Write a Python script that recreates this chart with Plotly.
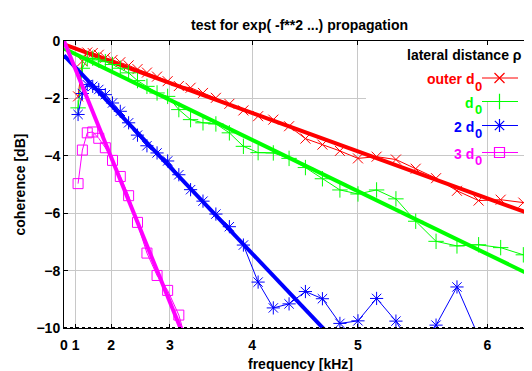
import plotly.graph_objects as go

# ---------------- data ----------------
freq_khz = [1.094, 1.250, 1.406, 1.563, 1.719, 1.875, 2.031, 2.188, 2.344, 2.500,
            2.656, 2.813, 2.969, 3.125, 3.281, 3.438, 3.594, 3.750, 3.906, 4.063,
            4.219, 4.375, 4.531, 4.688, 4.844, 5.000, 5.156, 5.313, 5.469, 5.625,
            5.781, 5.938, 6.094, 6.250]

outer_d0_db = [-1.93, -0.70, -0.40, -0.42, -0.48, -0.58, -0.66, -0.74, -0.85, -0.98,
               -1.10, -1.24, -1.40, -1.57, -1.63, -1.81, -1.98, -2.19, -2.42, -2.62,
               -2.74, -2.97, -3.40, -3.61, -3.83, -4.09, -4.03, -4.13, -4.45, -4.78,
               -5.22, -5.56, -5.53, -5.63]

d0_db = [-2.33, -0.95, -0.62, -0.60, -0.66, -0.72, -0.82, -0.95, -1.11, -1.38,
         -1.58, -1.81, -1.93, -2.39, -2.74, -2.85, -2.89, -3.20, -3.67, -3.89,
         -3.90, -4.09, -4.41, -4.80, -5.19, -5.33, -5.19, -5.50, -6.28, -6.98,
         -7.14, -7.10, -7.20, -7.45]

two_d0_db = [-2.56, -1.83, -1.52, -1.58, -1.69, -1.87, -2.16, -2.45, -2.85, -3.28,
             -3.65, -3.90, -4.18, -4.66, -5.18, -5.58, -6.03, -6.47, -7.11, -8.40,
             -9.30, -9.16, -8.73, -8.98, -9.84, -9.75, -8.97, -9.76, -10.9, -9.90,
             -8.57, -10.3]

three_d0_db = [-4.97, -3.80, -3.20, -3.17, -3.39, -3.72, -4.16, -4.72, -5.39, -6.32,
               -7.39, -8.17, -8.69, -9.55, -11.0]

series_labels = ["outer d", "d", "2 d", "3 d"]
series_subscripts = ["0", "0", "0", "0"]
series_values = [outer_d0_db, d0_db, two_d0_db, three_d0_db]

# fitted model  coherence[dB] = intercept + slope * f**2
fit_intercept_db = [-0.12, -0.26, -0.50, 0.0]
fit_slope_db_per_khz2 = [-0.149, -0.199, -0.4315, -1.01]

x_tick_freqs = [0, 1, 2, 3, 4, 5, 6]
x_tick_labels = ["0", "1", "2", "3", "4", "5", "6"]
y_tick_vals = [0, -2, -4, -6, -8, -10]

# ---------------- styles / layout ----------------
colors = ["#ff0000", "#00ff00", "#0000ff", "#ff00ff"]
symbols = ["x-thin-open", "cross-thin-open", "asterisk-open", "square-open"]
marker_sizes = [10, 11, 11, 10]
FONT = "Liberation Sans, Arial, sans-serif"

# the page body adds an 8 px margin; layout is described in window pixels
OFF = 8
WIN_W, WIN_H = 532, 371
W, H = WIN_W - OFF, WIN_H - OFF
PLOT_L, PLOT_R, PLOT_T, PLOT_B = 64, 532, 41, 328     # window pixels
ML, MR, MT, MB = PLOT_L - OFF, WIN_W - PLOT_R, PLOT_T - OFF, WIN_H - PLOT_B
PW, PH = PLOT_R - PLOT_L, PLOT_B - PLOT_T
X_MAX = 39.8          # in kHz^2 (axis is quadratic in frequency)
Y_MIN, Y_MAX = -10, 0


def px_to_x(px):
    return (px - PLOT_L) / PW * X_MAX


def py_to_y(py):
    return Y_MAX - (py - PLOT_T) / PH * (Y_MAX - Y_MIN)


def px_to_paper(px):
    return (px - PLOT_L) / PW


def py_to_paper(py):
    return (PLOT_B - py) / PH


fig = go.Figure()

for lab, sub, vals, col, sym, ms, a, b in zip(series_labels, series_subscripts, series_values,
                                              colors, symbols, marker_sizes,
                                              fit_intercept_db, fit_slope_db_per_khz2):
    fx = [f * f for f in freq_khz[:len(vals)]]
    fig.add_trace(go.Scatter(
        x=fx, y=vals, mode="lines+markers", name=lab + sub, showlegend=False,
        line=dict(color=col, width=1),
        marker=dict(symbol=sym, size=ms, color=col, line=dict(color=col, width=1)),
    ))
    fit_x = [0, X_MAX]
    fig.add_trace(go.Scatter(
        x=fit_x, y=[a + b * v for v in fit_x], mode="lines", showlegend=False,
        line=dict(color=col, width=4), hoverinfo="skip",
    ))

# bottom border drawn heavier/dotted like the reference
fig.add_shape(type="line", xref="paper", yref="y", x0=0, x1=1, y0=Y_MIN, y1=Y_MIN,
              line=dict(color="black", width=2, dash="dot"), layer="above")

# hand-drawn key (text left of sample, like gnuplot)
key_rows_py = [78, 101.5, 125.5, 152.5]
for lab, sub, col, sym, ms, py in zip(series_labels, series_subscripts, colors, symbols,
                                      marker_sizes, key_rows_py):
    fig.add_trace(go.Scatter(
        x=[px_to_x(482), px_to_x(518)], y=[py_to_y(py), py_to_y(py)], mode="lines",
        line=dict(color=col, width=1), showlegend=False, hoverinfo="skip"))
    fig.add_trace(go.Scatter(
        x=[px_to_x(499.5)], y=[py_to_y(py)], mode="markers",
        marker=dict(symbol=sym, size=ms, color=col, line=dict(color=col, width=1.2)),
        showlegend=False, hoverinfo="skip"))
    # main part of the label
    fig.add_annotation(
        x=px_to_paper(473.5), y=py_to_paper(79), xref="paper", yref="paper",
        yshift=-(py - 78), borderpad=0, borderwidth=0,
        text="<b>" + lab + "</b>", showarrow=False, xanchor="right", yanchor="middle",
        font=dict(family=FONT, size=14, color=col))
    # subscript, nearly full size and lowered, as drawn by gnuplot
    fig.add_annotation(
        x=px_to_paper(474.5), y=py_to_paper(86), xref="paper", yref="paper",
        yshift=-(py - 78), borderpad=0, borderwidth=0,
        text="<b>" + sub + "</b>", showarrow=False, xanchor="left", yanchor="middle",
        font=dict(family=FONT, size=13, color=col))

fig.add_annotation(
    x=px_to_paper(524), y=py_to_paper(55), xref="paper", yref="paper",
    text="<b>lateral distance ρ</b>", showarrow=False, xanchor="right", yanchor="middle",
    font=dict(family=FONT, size=14, color="black"))

# opaque key box hiding the grid behind the key header
fig.add_shape(type="rect", xref="x", yref="y", x0=px_to_x(366), x1=X_MAX,
              y0=-2.1, y1=0, fillcolor="white", line=dict(width=0), layer="between")

# titles
fig.add_annotation(x=px_to_paper(299), y=py_to_paper(25), xref="paper", yref="paper",
                   text="<b>test for exp( -f**2 ...) propagation</b>", showarrow=False,
                   xanchor="center", yanchor="middle",
                   font=dict(family=FONT, size=14, color="black"))
fig.add_annotation(x=px_to_paper(300), y=py_to_paper(364), xref="paper", yref="paper",
                   text="<b>frequency [kHz]</b>", showarrow=False,
                   xanchor="center", yanchor="middle",
                   font=dict(family=FONT, size=14, color="black"))
fig.add_annotation(x=px_to_paper(19.5), y=py_to_paper(185), xref="paper", yref="paper",
                   text="<b>coherence [dB]</b>", showarrow=False, textangle=-90,
                   xanchor="center", yanchor="middle",
                   font=dict(family=FONT, size=14, color="black"))

axis_common = dict(
    showgrid=True, gridcolor="#c8c8c8", gridwidth=1,
    showline=True, linecolor="black", linewidth=1, mirror="ticks",
    ticks="inside", ticklen=4, tickcolor="black", tickwidth=1,
    zeroline=False,
    tickfont=dict(family=FONT, size=14, color="black", weight="bold"),
)
fig.update_xaxes(range=[0, X_MAX], tickvals=[f * f for f in x_tick_freqs],
                 ticktext=x_tick_labels, ticklabelstandoff=4, **axis_common)
fig.update_yaxes(range=[Y_MIN, Y_MAX], tickvals=y_tick_vals, **axis_common)

fig.update_layout(
    width=W, height=H, margin=dict(l=ML, r=MR, t=MT, b=MB, pad=0),
    paper_bgcolor="white", plot_bgcolor="white", showlegend=False,
    font=dict(family=FONT, size=14, color="black"),
)

fig.write_html("out.html")
